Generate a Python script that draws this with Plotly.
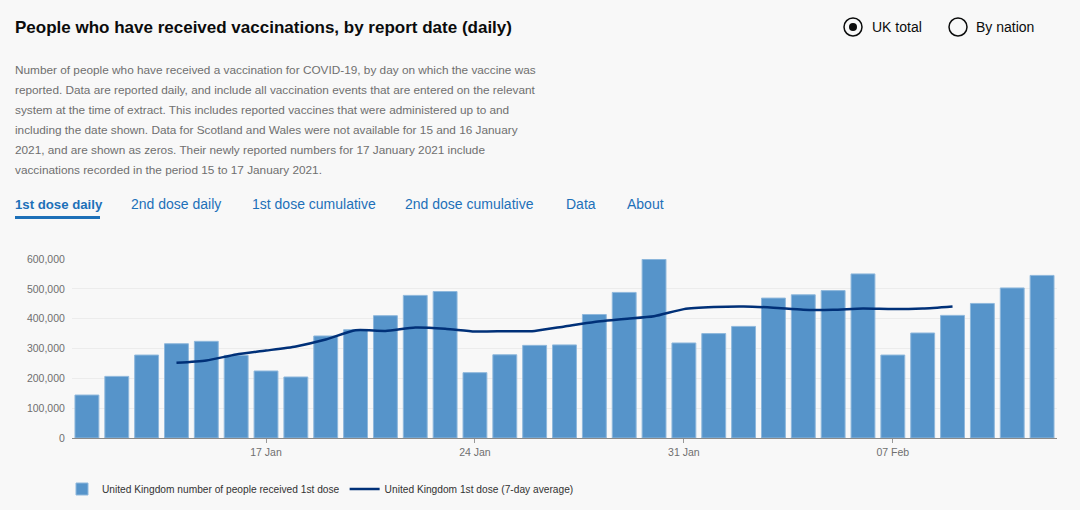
import plotly.graph_objects as go
import pandas as pd

# daily 1st doses, UK, 11 Jan - 12 Feb 2021
dates = pd.date_range("2021-01-11", "2021-02-12", freq="D")
first_dose = [144000, 206500, 278000, 316000, 324000, 277000, 224600, 204500, 342000, 363000,
              410000, 478000, 491000, 219000, 279000, 310500, 312000, 414000, 488000, 599000,
              318500, 350000, 374000, 469000, 480000, 494000, 550000, 278000, 352000, 411000,
              451000, 503000, 545000]

# 7-day average, 14 Jan - 9 Feb
avg_dates = pd.date_range("2021-01-14", "2021-02-09", freq="D")
avg_7day = [252000, 260000, 280000, 293000, 307000, 330000, 361000, 359000, 370000, 366000,
            357000, 358000, 359000, 374000, 389000, 399000, 408000, 432000, 439000, 441000,
            437000, 430000, 430000, 434000, 432000, 434000, 441000]

y_ticks = [0, 100000, 200000, 300000, 400000, 500000, 600000]
tabs = ["1st dose daily", "2nd dose daily", "1st dose cumulative", "2nd dose cumulative", "Data", "About"]
tab_x = [13, 129, 250, 403, 564, 625]

FONT = "Liberation Sans"
BG = "#f8f8f8"

# plot area in pixels
L, R, T, B = 72, 1057, 259, 438


def px(x):
    return (x - L) / (R - L)


def py(y):
    return (B - y) / (B - T)


fig = go.Figure()

fig.add_trace(go.Bar(
    x=dates, y=first_dose,
    name="United Kingdom number of people received 1st dose",
    marker=dict(color="#5694ca", line=dict(color="#8fb8dc", width=1)),
))

fig.add_trace(go.Scatter(
    x=avg_dates, y=avg_7day, mode="lines",
    name="United Kingdom 1st dose (7-day average)",
    line=dict(color="#003078", width=2.5, shape="spline", smoothing=0.6),
))

annotations = []

# title and description
annotations.append(dict(
    x=px(13), y=py(27), xref="paper", yref="paper", xanchor="left", yanchor="middle",
    text="<b>People who have received vaccinations, by report date (daily)</b>",
    showarrow=False, font=dict(family=FONT, size=17, color="#0b0c0c"),
))

desc = [
    "Number of people who have received a vaccination for COVID-19, by day on which the vaccine was",
    "reported. Data are reported daily, and include all vaccination events that are entered on the relevant",
    "system at the time of extract. This includes reported vaccines that were administered up to and",
    "including the date shown. Data for Scotland and Wales were not available for 15 and 16 January",
    "2021, and are shown as zeros. Their newly reported numbers for 17 January 2021 include",
    "vaccinations recorded in the period 15 to 17 January 2021.",
]
for i, line in enumerate(desc):
    annotations.append(dict(
        x=px(13), y=py(70 + 20 * i), xref="paper", yref="paper", xanchor="left", yanchor="middle",
        text=line, showarrow=False, font=dict(family=FONT, size=11.8, color="#6f6f6f"),
    ))

# tabs
for i, (t, x) in enumerate(zip(tabs, tab_x)):
    annotations.append(dict(
        x=px(x), y=py(204), xref="paper", yref="paper", xanchor="left", yanchor="middle",
        text=f"<b>{t}</b>" if i == 0 else t, showarrow=False,
        font=dict(family=FONT, size=14 if i else 13.2, color="#1d70b8"),
    ))

# radio buttons
for label, x in [("UK total", 870), ("By nation", 974)]:
    annotations.append(dict(
        x=px(x), y=py(27), xref="paper", yref="paper", xanchor="left", yanchor="middle",
        text=label, showarrow=False, font=dict(family=FONT, size=14, color="#0b0c0c"),
    ))

shapes = [
    # active tab underline
    dict(type="rect", xref="paper", yref="paper", x0=px(15), x1=px(100), y0=py(216), y1=py(219),
         fillcolor="#1d70b8", line_width=0),
    # radio circles
    dict(type="circle", xref="paper", yref="paper", x0=px(844), x1=px(862), y0=py(36), y1=py(18),
         line=dict(color="#0b0c0c", width=1.5), fillcolor="rgba(0,0,0,0)"),
    dict(type="circle", xref="paper", yref="paper", x0=px(849), x1=px(857), y0=py(31), y1=py(23),
         line_width=0, fillcolor="#0b0c0c"),
    dict(type="circle", xref="paper", yref="paper", x0=px(949), x1=px(967), y0=py(36), y1=py(18),
         line=dict(color="#0b0c0c", width=1.5), fillcolor="rgba(0,0,0,0)"),
]

fig.update_layout(
    width=1080, height=510,
    margin=dict(l=L, r=1080 - R, t=T, b=510 - B),
    paper_bgcolor=BG, plot_bgcolor=BG,
    font=dict(family=FONT, size=11, color="#6f6f6f"),
    bargap=0.2,
    showlegend=True,
    legend=dict(orientation="h", xref="container", yref="container",
                x=62 / 1080, y=1 - 489 / 510, xanchor="left", yanchor="middle",
                font=dict(family=FONT, size=10.2, color="#333333"), bgcolor="rgba(0,0,0,0)",
                itemwidth=30),
    annotations=annotations,
    shapes=shapes,
)

fig.update_xaxes(
    type="date",
    range=["2021-01-10 12:00", "2021-02-12 12:00"],
    tick0="2021-01-17", dtick=7 * 24 * 3600 * 1000, tickformat="%d %b",
    ticks="outside", ticklen=4, tickcolor="#999999",
    showgrid=False, showline=True, linecolor="#8a8a8a", linewidth=1,
    tickfont=dict(family=FONT, size=10.5, color="#6f6f6f"),
)
fig.update_yaxes(
    range=[0, 600000], tickvals=y_ticks, tickformat=",d",
    showgrid=True, gridcolor="#ececec", gridwidth=1, zeroline=False,
    ticks="outside", ticklen=4, tickcolor="rgba(0,0,0,0)",
    tickfont=dict(family=FONT, size=10.5, color="#6f6f6f"),
)

fig.write_html(
    "out.html",
    config={"displayModeBar": False},
    post_script="document.body.style.margin='0';document.body.style.overflow='hidden';"
                "document.body.style.background='#f8f8f8';",
)
